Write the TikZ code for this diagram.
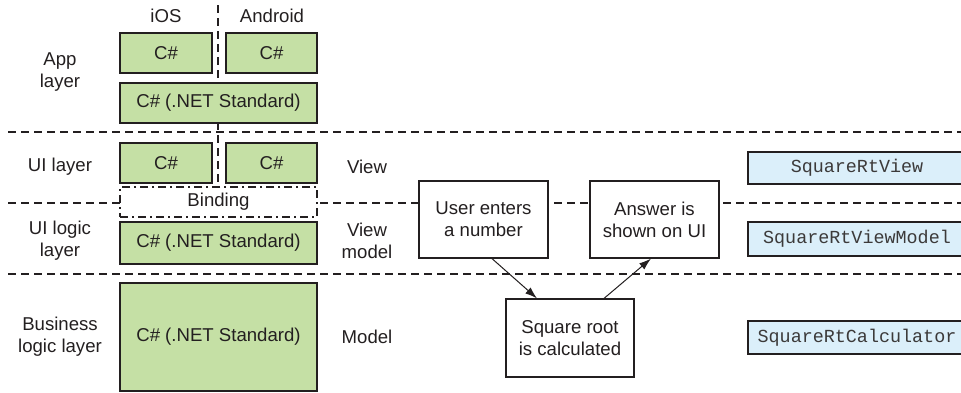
\documentclass[tikz,border=0pt]{standalone}
\usepackage{fontspec}
\setmainfont{Liberation Sans}
\setmonofont{Liberation Mono}
\usetikzlibrary{arrows.meta}
\definecolor{ink}{RGB}{35,31,32}
\definecolor{monoink}{RGB}{60,58,58}
\definecolor{boxgreen}{RGB}{197,224,165}
\definecolor{boxblue}{RGB}{219,239,250}
\tikzset{
  every node/.style={text=ink, font=\fontsize{18.6}{22}\selectfont},
  greenbox/.style={draw=ink, line width=1.2pt, fill=boxgreen, inner sep=0pt},
  whitebox/.style={draw=ink, line width=1.2pt, fill=white, inner sep=0pt, align=center},
  bluebox/.style={draw=ink, line width=1.2pt, fill=boxblue, inner sep=0pt, text=monoink, font=\ttfamily\fontsize{18.4}{22}\selectfont},
  bindbox/.style={draw=ink, line width=1.2pt, fill=white, inner sep=0pt, dash pattern=on 8pt off 4pt on 2pt off 4pt},
  layerline/.style={draw=ink, line width=1.2pt, dash pattern=on 8pt off 5pt},
  lbl/.style={align=center, inner sep=0pt},
  arr/.style={draw=ink, line width=1pt, -{Latex[length=12pt,width=8pt]}}
}
\begin{document}
\begin{tikzpicture}[x=1pt,y=-1pt]
\clip (0,0) rectangle (961,392);
% layer lines
\coordinate (l1a) at (8,132); \coordinate (l1b) at (961,132);
\coordinate (l2a) at (8,203); \coordinate (l2b) at (961,203);
\coordinate (l3a) at (8,274); \coordinate (l3b) at (961,274);
\coordinate (va) at (218,5); \coordinate (vb) at (218,187);
\draw[layerline] (l1a) -- (l1b);
\draw[layerline] (l2a) -- (l2b);
\draw[layerline] (l3a) -- (l3b);
\draw[layerline] (va) -- (vb);
% column headings
\node[lbl] (ios) at (166,16) {iOS};
\node[lbl] (android) at (272,16) {Android};
% left labels
\node[lbl] (applbl) at (60,72) {App\\layer};
\node[lbl] (uilbl) at (60,167) {UI layer};
\node[lbl] (uiloglbl) at (60,241) {UI logic\\layer};
\node[lbl] (bizlbl) at (60,336.5) {Business\\logic layer};
% green boxes
\node[greenbox, minimum width=92pt, minimum height=40pt] (ios1) at (166,53) {C\#};
\node[greenbox, minimum width=91pt, minimum height=40pt] (and1) at (271.5,53) {C\#};
\node[greenbox, minimum width=197pt, minimum height=40pt] (appstd) at (218.5,103) {C\# (.NET Standard)};
\node[greenbox, minimum width=92pt, minimum height=40pt] (ios2) at (166,163) {C\#};
\node[greenbox, minimum width=91pt, minimum height=40pt] (and2) at (271.5,163) {C\#};
\node[bindbox, minimum width=197pt, minimum height=30pt] (binding) at (218.5,202) {Binding};
\node[greenbox, minimum width=197pt, minimum height=42pt] (uistd) at (218.5,243) {C\# (.NET Standard)};
\node[greenbox, minimum width=197pt, minimum height=108pt] (bizstd) at (218.5,337) {C\# (.NET Standard)};
% middle labels
\node[lbl] (viewlbl) at (367,167) {View};
\node[lbl] (vmlbl) at (367,241) {View\\model};
\node[lbl] (modellbl) at (367,337) {Model};
% flow boxes
\node[whitebox, minimum width=129pt, minimum height=77pt] (user) at (483.5,219.5) {User enters\\a number};
\node[whitebox, minimum width=129pt, minimum height=77pt] (answer) at (654.5,219.5) {Answer is\\shown on UI};
\node[whitebox, minimum width=128pt, minimum height=78pt] (square) at (570,338) {Square root\\is calculated};
\draw[arr] ([xshift=8.5pt]user.south) -- ([xshift=-33pt]square.north);
\draw[arr] ([xshift=34pt]square.north) -- ([xshift=-3.5pt]answer.south);
% class boxes
\node[bluebox, minimum width=218pt, minimum height=32pt] (sqview) at (857,168) {SquareRtView};
\node[bluebox, minimum width=218pt, minimum height=34pt] (sqvm) at (857,239) {SquareRtViewModel};
\node[bluebox, minimum width=218pt, minimum height=33pt] (sqcalc) at (857,337.5) {SquareRtCalculator};
\end{tikzpicture}
\end{document}
